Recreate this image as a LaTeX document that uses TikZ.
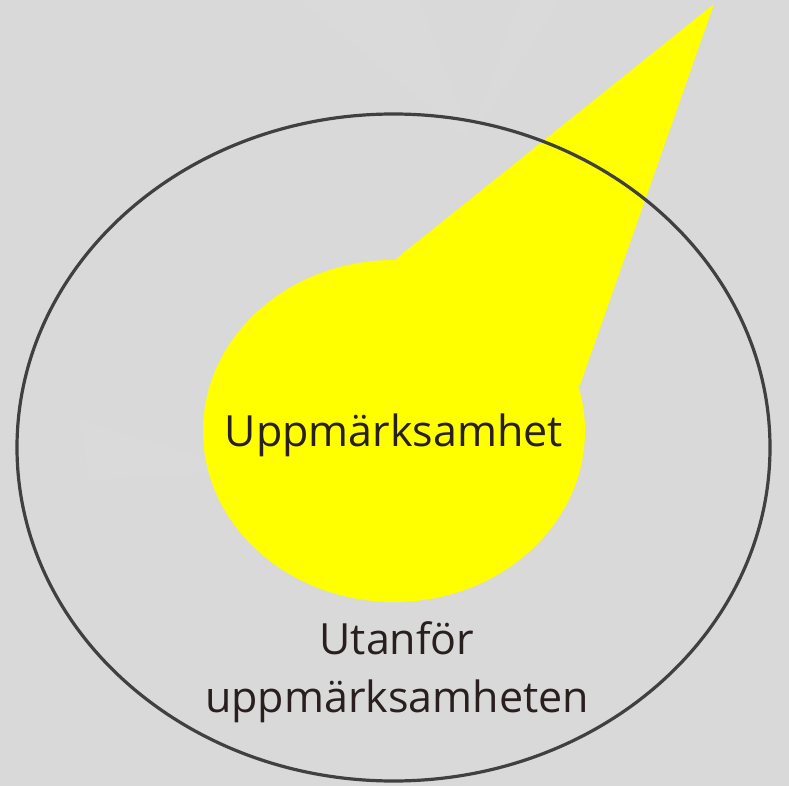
\documentclass[tikz,border=0pt]{standalone}
\usepackage{fontspec}
\setmainfont{Open Sans}
\definecolor{bg}{HTML}{D9D9D9}
\definecolor{rim}{HTML}{404040}
\definecolor{spot}{HTML}{FFFF00}
\definecolor{ink}{HTML}{2A1F1F}
\tikzset{
  label text/.style={text=ink, font=\fontsize{43}{58}\selectfont, align=center, inner sep=0pt},
}
\begin{document}
\begin{tikzpicture}[x=1pt,y=-1pt]
\fill[bg] (0,0) rectangle (789,786);
\useasboundingbox (0,0) rectangle (789,786);
% faint petals
\begin{scope}[white, opacity=0.05]
\fill (300,0) -- (470,140) -- (420,0) -- cycle;
\fill (560,0) -- (470,140) -- (520,0) -- cycle;
\fill (80,420) -- (240,470) -- (90,480) -- cycle;
\end{scope}
% spotlight
\coordinate (apex) at (714,4);
\coordinate (bl) at (397,258);
\coordinate (br) at (580,385);
\fill[spot] (394,431) ellipse [x radius=191, y radius=171];
\fill[spot] (bl) -- (apex) -- (br) -- (394,431) -- cycle;
% outer ellipse
\draw[rim, line width=3.2pt] (393.5,447.5) ellipse [x radius=376.5, y radius=333.5];
\node[label text] (inside) at (394,435) {Uppmärksamhet};
\node[label text, anchor=base] (outside) at (397,712) {Utanför\\uppmärksamheten};
\end{tikzpicture}
\end{document}
